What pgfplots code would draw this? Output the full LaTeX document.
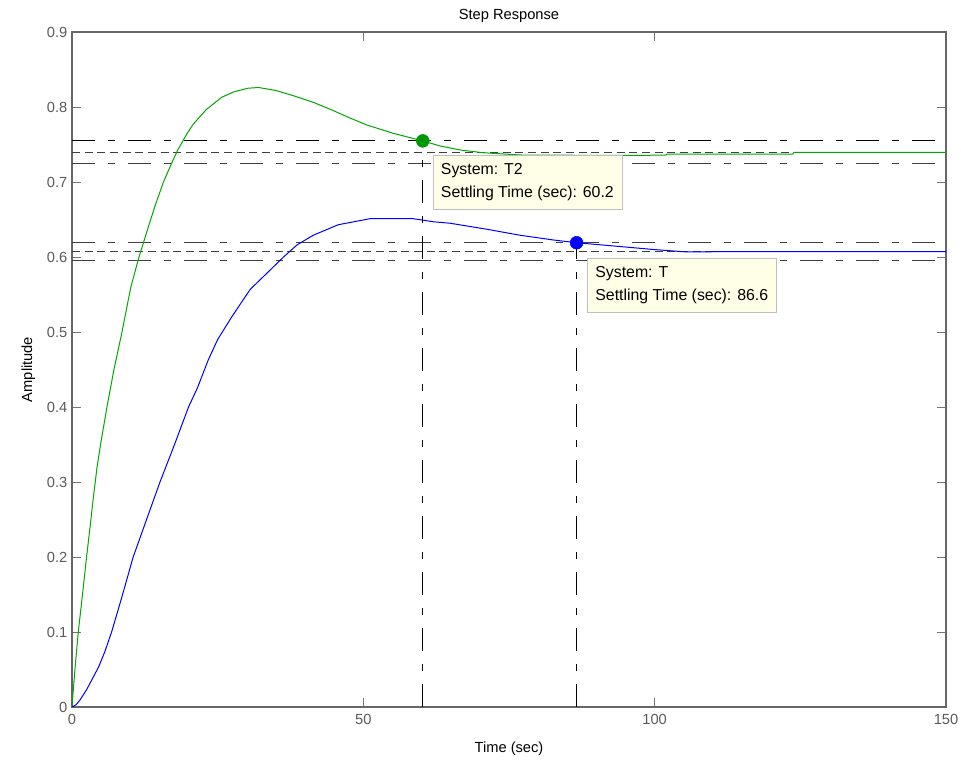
\documentclass[border=0pt]{standalone}
\usepackage{pgfplots}
\pgfplotsset{compat=1.18}
\usepackage{fontspec}
\setmainfont{Liberation Sans}
\definecolor{mgreen}{rgb}{0,0.66,0}
\definecolor{mblue}{rgb}{0,0,1}
\definecolor{boxfill}{RGB}{255,255,232}
\definecolor{tickgray}{RGB}{90,90,90}
\tikzset{
  mdashdot/.style={dash pattern=on 17pt off 10pt on 5pt off 10pt},
  mdash/.style={dash pattern=on 6pt off 3.5pt},
}
\begin{document}
\begin{tikzpicture}
\begin{axis}[
  scale only axis,
  width=655.5pt, height=506.25pt,
  xmin=0, xmax=150, ymin=0, ymax=0.9,
  xtick={0,50,100,150},
  ytick={0,0.1,0.2,0.3,0.4,0.5,0.6,0.7,0.8,0.9},
  yticklabels={0,0.1,0.2,0.3,0.4,0.5,0.6,0.7,0.8,0.9},
  tick align=inside,
  major tick length=6.5pt,
  tick style={draw=black!55, line width=0.6pt},
  axis line style={draw=black!60, line width=1pt},
  /pgf/number format/assume math mode=true,
  tick label style={font=\fontsize{11}{13}\selectfont, text=tickgray},
  xticklabel style={yshift=-2pt},
  title={Step Response},
  title style={font=\fontsize{11}{13}\selectfont, at={(0.5,1)}, anchor=center, yshift=6pt},
  xlabel={Time (sec)},
  xlabel style={font=\fontsize{11}{13}\selectfont, at={(0.5,0)}, anchor=center, yshift=-31pt},
  ylabel={Amplitude},
  ylabel style={font=\fontsize{11}{13}\selectfont},
  y label style={at={(axis description cs:0,0.5)}, anchor=south, yshift=24pt},
]
% settling bands T2
\addplot[black, line width=0.7pt, mdashdot] coordinates {(0,0.7548) (150,0.7548)};
\addplot[black!75, line width=0.7pt, mdash] coordinates {(0,0.740) (150,0.740)};
\addplot[black!75, line width=0.7pt, mdashdot] coordinates {(0,0.7252) (150,0.7252)};
% settling bands T
\addplot[black!75, line width=0.7pt, mdashdot] coordinates {(0,0.619) (150,0.619)};
\addplot[black!75, line width=0.7pt, mdash] coordinates {(0,0.607) (150,0.607)};
\addplot[black!75, line width=0.7pt, mdashdot] coordinates {(0,0.595) (150,0.595)};
% vertical settling lines
\addplot[black, line width=0.7pt, mdashdot] coordinates {(60.2,0) (60.2,0.7548)};
\addplot[black, line width=0.7pt, mdashdot] coordinates {(86.6,0) (86.6,0.619)};
% T2 response
\addplot[mgreen, line width=0.75pt] coordinates {
(0,0) (0.5,0.05) (1.08,0.1) (1.8,0.15) (2.5,0.2) (3.1,0.24) (3.6,0.275) (4.3,0.32)
(4.9,0.35) (6.0,0.40) (7.2,0.45) (8.5,0.497) (10.1,0.56) (11.5,0.60)
(13.1,0.64) (14.2,0.667) (15.7,0.70) (17.1,0.725) (18.1,0.742) (19.7,0.764)
(20.8,0.777) (23.1,0.797) (25.7,0.813) (27.7,0.820) (30.2,0.825) (32,0.826)
(35,0.822) (38,0.815) (41.5,0.806) (44.9,0.795) (47.5,0.786) (50.6,0.776)
(55.1,0.765) (60.2,0.7548) (63.2,0.748) (66.6,0.7427) (70.6,0.739) (76.9,0.736)
(90,0.7355) (101.9,0.7357) (102.1,0.7373) (123.7,0.7373) (123.9,0.7396) (150,0.7396)
};
% T response
\addplot[mblue, line width=0.75pt] coordinates {
(0,0) (0.7,0.003) (1.37,0.0093) (2.5,0.023) (3.66,0.040) (4.6,0.054) (5.6,0.073)
(6.8,0.1) (8.5,0.145) (10.5,0.2) (12.8,0.25) (15.1,0.3) (17.6,0.35) (20.0,0.4) (21.5,0.425)
(23.4,0.463) (25,0.49) (27.4,0.52) (30.6,0.557) (33.4,0.578) (36.3,0.600)
(38.6,0.616) (41.4,0.629) (45.7,0.643) (51.1,0.651)
(58.6,0.651) (62.0,0.647) (64.9,0.645) (71.2,0.637) (76.9,0.629) (82.6,0.6227)
(86.6,0.619) (94,0.614) (99.8,0.610) (105.5,0.6067) (110,0.607) (150,0.607)
};
% markers
\addplot[only marks, mark=*, mark size=4.8pt, mgreen!90!black, mark options={fill=mgreen!90!black, draw=mgreen!90!black}] coordinates {(60.2,0.7548)};
\addplot[only marks, mark=*, mark size=4.8pt, mblue, mark options={fill=mblue, draw=mblue}] coordinates {(86.6,0.619)};
% data tips
\node[anchor=north west, draw=black!25, fill=boxfill, align=left, inner xsep=6pt, inner ysep=6pt,
  font=\fontsize{11.9}{17.5}\selectfont] at (axis cs:61.9,0.736) {System: T2\\Settling Time (sec): 60.2};
\node[anchor=north west, draw=black!25, fill=boxfill, align=left, inner xsep=6pt, inner ysep=6pt,
  font=\fontsize{11.9}{17.5}\selectfont] at (axis cs:88.4,0.5987) {System: T\\Settling Time (sec): 86.6};
\end{axis}
\pgfresetboundingbox
\path ([xshift=-54pt, yshift=-39.75pt]current axis.south west) rectangle ([xshift=11.25pt, yshift=24pt]current axis.north east);
\end{tikzpicture}
\end{document}
